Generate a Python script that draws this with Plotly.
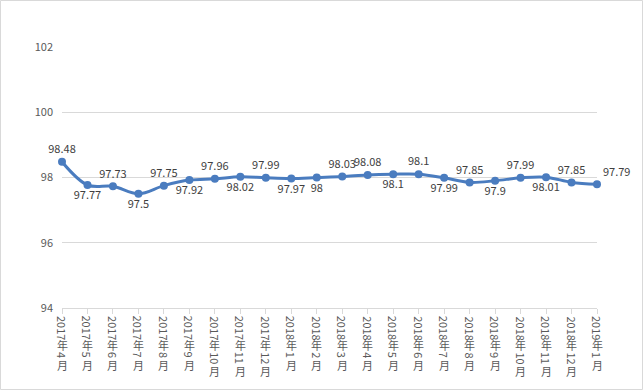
import plotly.graph_objects as go

categories = ["2017年4月", "2017年5月", "2017年6月", "2017年7月", "2017年8月", "2017年9月",
              "2017年10月", "2017年11月", "2017年12月", "2018年1月", "2018年2月", "2018年3月",
              "2018年4月", "2018年5月", "2018年6月", "2018年7月", "2018年8月", "2018年9月",
              "2018年10月", "2018年11月", "2018年12月", "2019年1月"]
values = [98.48, 97.77, 97.73, 97.5, 97.75, 97.92, 97.96, 98.02, 97.99, 97.97, 98,
          98.03, 98.08, 98.1, 98.1, 97.99, 97.85, 97.9, 97.99, 98.01, 97.85, 97.79]
label_pos = ["top center", "bottom center", "top center", "bottom center", "top center",
             "bottom center", "top center", "bottom center", "top center", "bottom center",
             "bottom center", "top center", "top center", "bottom center", "top center",
             "bottom center", "top center", "bottom center", "top center", "bottom center",
             "top center", "top right"]
y_ticks = [94, 96, 98, 100, 102]

W, H = 643, 390
L, R, T, B = 62, 46, 47, 82
PW, PH = W - L - R, H - T - B

fig = go.Figure()
fig.add_trace(go.Scatter(
    x=categories, y=values, mode="lines+markers+text",
    line=dict(color="#4a7cbf", width=3, shape="spline", smoothing=1.0),
    marker=dict(color="#4a7cbf", size=8),
    text=[f"{v:g}" for v in values], textposition=label_pos,
    textfont=dict(family="Noto Sans CJK SC, Noto Sans", size=11, color="#404040"),
    cliponaxis=False, showlegend=False, hoverinfo="skip",
))

# vertical (stacked) category labels: digits rotated, CJK upright
font = dict(family="Noto Sans CJK SC", size=11, color="#595959")
for c in categories:
    year, rest = c.split("年")
    month = rest.replace("月", "")
    n = len(month)
    parts = [
        (year, 90, 20),
        ("年", 0, 36.5),
        (month, 90, 47 if n == 1 else 50),
        ("月", 0, 57 if n == 1 else 63),
    ]
    for txt, ang, shift in parts:
        fig.add_annotation(x=c, xref="x", y=0, yref="paper", text=txt, textangle=ang,
                           showarrow=False, xanchor="center", yanchor="middle",
                           yshift=-shift, font=font, borderpad=0)

# chart border
fig.add_shape(type="rect", xref="paper", yref="paper",
              x0=(0.5 - L) / PW, x1=(W - 0.5 - L) / PW,
              y0=-(B - 0.5) / PH, y1=(PH + T - 0.5) / PH,
              line=dict(color="#d9d9d9", width=1), layer="below")

fig.update_layout(
    width=W, height=H, margin=dict(l=L, r=R, t=T, b=B),
    paper_bgcolor="white", plot_bgcolor="white",
    xaxis=dict(type="category", range=[0, len(categories) - 1], showticklabels=False,
               showgrid=False, showline=True, linecolor="#d9d9d9", linewidth=1,
               ticks="outside", ticklen=5, tickcolor="#d9d9d9", zeroline=False),
    yaxis=dict(range=[94, 102], tickvals=y_ticks, ticktext=[str(t) for t in y_ticks],
               showgrid=True, gridcolor="#d9d9d9", gridwidth=1, zeroline=False,
               showline=False, ticks="", ticklabelstandoff=8,
               tickfont=dict(family="Noto Sans CJK SC, Noto Sans", size=11, color="#595959")),
)

fig.write_html("out.html", config={"displayModeBar": False},
               post_script="document.body.style.margin='0';document.body.style.overflow='hidden';")
